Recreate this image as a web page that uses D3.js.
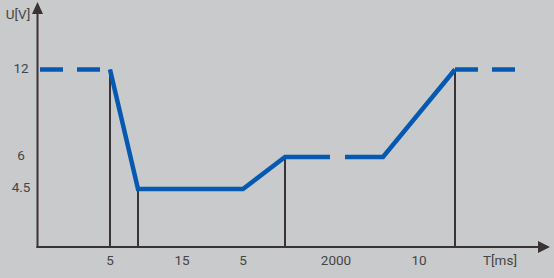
<!DOCTYPE html>
<html><head><meta charset="utf-8">
<script src="https://cdn.jsdelivr.net/npm/d3@7"></script>
<style>
html,body{margin:0;padding:0;background:#c9cacb;}
svg{display:block;}
text{font-family:Roboto,"Noto Sans",sans-serif;font-size:13.5px;fill:#454545;}
</style></head>
<body>
<svg id="c" width="554" height="278"></svg>
<script>
// Profile: times in ms (cumulative) and voltages
const profileTimes = [0, 5, 20, 25, 2025, 2035];
const profileVolts = [12, 4.5, 4.5, 6, 6, 12];
// break in the 2000 ms hold (drawn as a gap)
const breakTimes = [943, 1249];
// dashed lead-in / lead-out at 12 V
const leadTimes = [-10, 0];
const tailTimes = [2035, 2045];
const nominalVolt = 12;
// markers (vertical lines)
const markerTimes = [0, 5, 25, 2035];
// axis labels
const yTicks = [12, 6, 4.5];
const xTickLabels = ["5", "15", "5", "2000", "10"];
const xTickAt = [0, 11.3, 20, 1066, 2030];

const svg = d3.select("#c");
const x = d3.scaleLinear()
  .domain([-10, 0, 5, 20, 25, 2025, 2035, 2045])
  .range([40, 110, 138, 243, 285, 383, 455, 515]);
const y = d3.scaleLinear()
  .domain([0, 4.5, 6, 12])
  .range([247, 189, 157, 69.5]);

const axisColor = "#3a3333";
const blue = "#0659b1";
const x0 = 37.5, yBase = 247;

// vertical marker lines
const volAt = t => profileVolts[profileTimes.indexOf(t)];
svg.selectAll("line.mk").data(markerTimes).join("line")
  .attr("class", "mk")
  .attr("x1", d => x(d)).attr("x2", d => x(d))
  .attr("y1", yBase).attr("y2", d => y(volAt(d)))
  .attr("stroke", axisColor).attr("stroke-width", 2);

// main profile with break
const pts = profileTimes.map((t, i) => ({t, v: profileVolts[i]}));
const main = [];
pts.forEach(p => {
  if (p.t === 2025) {
    main.push({t: breakTimes[0], v: 6});
    main.push(null);
    main.push({t: breakTimes[1], v: 6});
  }
  main.push(p);
});
const line = d3.line().defined(d => d !== null).x(d => x(d.t)).y(d => y(d.v));
svg.append("path").datum(main).attr("d", line)
  .attr("fill", "none").attr("stroke", blue).attr("stroke-width", 4.5)
  .attr("stroke-linejoin", "miter");

// dashed lead and tail
[leadTimes, tailTimes].forEach(ts => {
  svg.append("path").datum(ts.map(t => ({t, v: nominalVolt}))).attr("d", line)
    .attr("fill", "none").attr("stroke", blue).attr("stroke-width", 4.5)
    .attr("stroke-dasharray", "23,14");
});

// axes
svg.append("line").attr("x1", x0).attr("x2", x0).attr("y1", yBase + 1).attr("y2", 12)
  .attr("stroke", axisColor).attr("stroke-width", 2);
svg.append("line").attr("x1", x0 - 1).attr("x2", 540).attr("y1", yBase).attr("y2", yBase)
  .attr("stroke", axisColor).attr("stroke-width", 2);
svg.append("path").attr("d", `M${x0},2 L${x0 - 5.5},14 L${x0 + 5.5},14 Z`).attr("fill", axisColor);
svg.append("path").attr("d", `M550,${yBase} L538,${yBase - 6} L538,${yBase + 6} Z`).attr("fill", axisColor);

// y tick labels
svg.selectAll("text.yt").data(yTicks).join("text")
  .attr("class", "yt").attr("x", 21).attr("y", d => y(d)).attr("dy", "0.25em")
  .attr("text-anchor", "middle").text(d => d);
// x tick labels
svg.selectAll("text.xt").data(xTickLabels).join("text")
  .attr("class", "xt").attr("x", (d, i) => x(xTickAt[i])).attr("y", 265)
  .attr("text-anchor", "middle").text(d => d);

svg.append("text").attr("x", 18).attr("y", 19).attr("text-anchor", "middle").text("U[V]");
svg.append("text").attr("x", 500).attr("y", 265).attr("text-anchor", "middle").text("T[ms]");
</script>
</body></html>
